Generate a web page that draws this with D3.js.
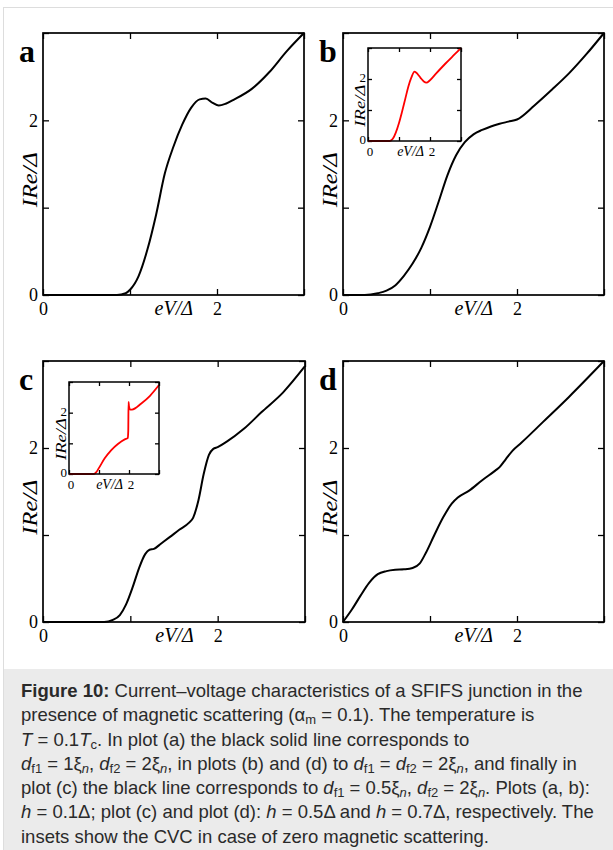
<!DOCTYPE html>
<html>
<head>
<meta charset="utf-8">
<script src="https://cdn.jsdelivr.net/npm/d3@7"></script>
<style>
  body { margin: 0; background: #fff; }
  #wrap { position: relative; width: 613px; height: 850px; overflow: hidden; }
  #caption {
    position: absolute; left: 21px; top: 679px;
    font-family: "Liberation Sans", Arial, sans-serif; font-size: 18.5px;
    line-height: 24.3px; color: #2a2a2a; white-space: nowrap;
  }
  #caption sub { font-size: 13px; vertical-align: -3px; line-height: 0; }
</style>
</head>
<body>
<div id="wrap">
  <svg id="fig" width="613" height="850"></svg>
  <div id="caption">
    <b>Figure 10:</b> Current–voltage characteristics of a SFIFS junction in the<br>
    presence of magnetic scattering (α<sub>m</sub> = 0.1). The temperature is<br>
    <i>T</i> = 0.1<i>T</i><sub>c</sub>. In plot (a) the black solid line corresponds to<br>
    <i>d</i><sub>f1</sub> = 1ξ<sub><i>n</i></sub>, <i>d</i><sub>f2</sub> = 2ξ<sub><i>n</i></sub>, in plots (b) and (d) to <i>d</i><sub>f1</sub> = <i>d</i><sub>f2</sub> = 2ξ<sub><i>n</i></sub>, and finally in<br>
    plot (c) the black line corresponds to <i>d</i><sub>f1</sub> = 0.5ξ<sub><i>n</i></sub>, <i>d</i><sub>f2</sub> = 2ξ<sub><i>n</i></sub>. Plots (a, b):<br>
    <i>h</i> = 0.1Δ; plot (c) and plot (d): <i>h</i> = 0.5Δ and <i>h</i> = 0.7Δ, respectively. The<br>
    insets show the CVC in case of zero magnetic scattering.
  </div>
</div>
<script>
// axis ticks (only 0 and 2 carry a label)
const tickVals   = [0, 1, 2, 3];
const tickLabels = { 0: "0", 2: "2" };

// panel a – black curve
const aV = [0, 0.5, 0.85, 0.95, 1.0, 1.1, 1.2, 1.3, 1.4, 1.5, 1.6, 1.7, 1.8, 1.87, 1.95, 2.02, 2.1, 2.2, 2.4, 2.6, 2.8, 3.0];
const aI = [0, 0, 0, 0.02, 0.06, 0.22, 0.52, 0.92, 1.39, 1.70, 1.95, 2.14, 2.24, 2.25, 2.2, 2.17, 2.19, 2.24, 2.36, 2.55, 2.79, 3.0];

// panel b – black curve
const bV = [0, 0.25, 0.4, 0.5, 0.6, 0.7, 0.8, 0.9, 1.0, 1.1, 1.2, 1.3, 1.4, 1.5, 1.6, 1.7, 1.8, 1.9, 2.0, 2.2, 2.4, 2.6, 2.8, 3.0];
const bI = [0, 0, 0.02, 0.05, 0.11, 0.22, 0.36, 0.54, 0.78, 1.07, 1.37, 1.6, 1.75, 1.84, 1.89, 1.93, 1.96, 1.985, 2.01, 2.17, 2.35, 2.54, 2.76, 3.0];

// panel b – inset (red)
const bInV = [0, 0.7, 0.8, 0.9, 1.0, 1.1, 1.2, 1.3, 1.4, 1.5, 1.6, 1.7, 1.8, 1.88, 2.0, 2.2, 2.5, 2.8, 3.0];
const bInI = [0, 0, 0.07, 0.28, 0.58, 0.95, 1.35, 1.75, 2.05, 2.24, 2.16, 2.03, 1.92, 1.88, 1.96, 2.18, 2.5, 2.8, 3.0];

// panel c – black curve
const cV = [0, 0.7, 0.8, 0.88, 0.95, 1.03, 1.1, 1.17, 1.22, 1.27, 1.35, 1.45, 1.56, 1.67, 1.72, 1.78, 1.84, 1.9, 1.95, 2.0, 2.1, 2.3, 2.5, 2.75, 3.0];
const cI = [0, 0, 0.025, 0.08, 0.2, 0.41, 0.62, 0.78, 0.83, 0.84, 0.9, 0.975, 1.06, 1.14, 1.2, 1.4, 1.7, 1.92, 1.99, 2.01, 2.07, 2.22, 2.41, 2.64, 2.94];

// panel c – inset (red)
const cInV = [0, 0.83, 0.9, 1.0, 1.19, 1.41, 1.63, 1.86, 1.96, 1.975, 1.985, 2.0, 2.04, 2.1, 2.41, 2.7, 3.0];
const cInI = [0, 0, 0.05, 0.2, 0.51, 0.78, 0.98, 1.13, 1.17, 1.4, 2.35, 2.2, 2.1, 2.1, 2.3, 2.55, 2.9];

// panel d – black curve
const dV = [0, 0.1, 0.2, 0.3, 0.4, 0.5, 0.6, 0.7, 0.8, 0.88, 0.95, 1.05, 1.15, 1.25, 1.32, 1.45, 1.6, 1.75, 1.8, 1.87, 1.95, 2.05, 2.3, 2.6, 3.0];
const dI = [0, 0.14, 0.3, 0.45, 0.55, 0.585, 0.6, 0.605, 0.62, 0.67, 0.79, 1.0, 1.2, 1.36, 1.43, 1.51, 1.63, 1.74, 1.78, 1.87, 1.97, 2.06, 2.3, 2.59, 3.0];

const svg = d3.select("#fig");
const serif = "'Liberation Serif', 'Times New Roman', serif";

// page frame + caption box
svg.append("rect").attr("x", 3.5).attr("y", 7.5).attr("width", 700).attr("height", 900)
  .attr("fill", "none").attr("stroke", "#ddd");
svg.append("rect").attr("x", 4).attr("y", 669).attr("width", 609).attr("height", 181)
  .attr("fill", "#ebebeb");

function drawPanel(p) {
  const inset = !!p.inset;
  const x = d3.scaleLinear().domain([0, 3]).range([p.left, p.left + p.w]);
  const y = d3.scaleLinear().domain([0, 3]).range([p.top + p.h, p.top]);
  const fs = inset ? 13 : 18;
  const tl = inset ? 4 : 6;
  const fmt = d => tickLabels[d] || "";
  const g = svg.append("g");

  if (inset) {
    g.append("rect").attr("x", p.left).attr("y", p.top)
      .attr("width", p.w).attr("height", p.h).attr("fill", "#fff");
  }

  const axes = [
    ["b", d3.axisBottom(x).tickFormat(fmt).tickPadding(inset ? 6 : 7), `translate(0,${p.top + p.h})`],
    ["t", d3.axisTop(x).tickFormat(""), `translate(0,${p.top})`],
    ["l", d3.axisLeft(y).tickFormat(fmt).tickPadding(inset ? 2 : 5), `translate(${p.left},0)`],
    ["r", d3.axisRight(y).tickFormat(""), `translate(${p.left + p.w},0)`]
  ];
  axes.forEach(([side, ax, tr]) => {
    const a = g.append("g").attr("transform", tr)
      .call(ax.tickValues(tickVals).tickSize(-tl))
      .attr("font-family", serif).attr("font-size", fs);
    a.select(".domain").remove();
    a.selectAll("line").attr("stroke", "#000").attr("stroke-width", 1.3);
    a.selectAll("text").attr("fill", "#000");
    if (inset && side === "b") a.selectAll("text").attr("dx", 1.5);
    if (inset && side === "l") a.selectAll("text").attr("dy", "0.2em");
  });

  const line = d3.line()
    .x(d => x(d[0])).y(d => y(d[1]))
    .curve(d3.curveMonotoneX);
  g.append("path")
    .datum(p.V.map((v, i) => [v, p.I[i]]))
    .attr("d", line)
    .attr("fill", "none")
    .attr("stroke", p.color)
    .attr("stroke-width", inset ? 1.8 : 2)
    .attr("stroke-linejoin", "round");

  g.append("rect").attr("x", p.left).attr("y", p.top)
    .attr("width", p.w).attr("height", p.h)
    .attr("fill", "none").attr("stroke", "#000").attr("stroke-width", inset ? 1.5 : 1.7);

  // x title, left of the "2" label
  g.append("text")
    .attr("x", x(2) - (inset ? 6 : 24))
    .attr("y", p.top + p.h + (inset ? 15 : 20))
    .attr("text-anchor", "end")
    .attr("font-family", serif).attr("font-style", "italic")
    .attr("font-size", inset ? 14 : 20)
    .text("eV/Δ");

  // y title, rotated
  const ty = p.top + p.h * (inset ? 0.62 : 0.56);
  const tx = p.left - (inset ? 3 : 6);
  g.append("text")
    .attr("transform", `translate(${tx},${ty}) rotate(-90)`)
    .attr("text-anchor", "middle")
    .attr("font-family", serif).attr("font-style", "italic")
    .attr("font-size", inset ? 14 : 20)
    .attr("textLength", inset ? 42 : 55)
    .attr("lengthAdjust", "spacingAndGlyphs")
    .text("IRe/Δ");

  if (p.letter) {
    svg.append("text")
      .attr("x", p.left - 24).attr("y", p.top + 29)
      .attr("font-family", serif).attr("font-weight", "bold")
      .attr("font-size", 32)
      .text(p.letter);
  }
}

drawPanel({ left: 43,  top: 33,  w: 261, h: 262, V: aV, I: aI, color: "#000", letter: "a" });
drawPanel({ left: 343, top: 33,  w: 261, h: 262, V: bV, I: bI, color: "#000", letter: "b" });
drawPanel({ left: 43,  top: 361, w: 262, h: 261, V: cV, I: cI, color: "#000", letter: "c" });
drawPanel({ left: 343, top: 361, w: 261, h: 261, V: dV, I: dI, color: "#000", letter: "d" });
drawPanel({ left: 368, top: 48,  w: 93,  h: 93,  V: bInV, I: bInI, color: "#f00", inset: true });
drawPanel({ left: 69,  top: 382, w: 90,  h: 92,  V: cInV, I: cInI, color: "#f00", inset: true });
</script>
</body>
</html>
